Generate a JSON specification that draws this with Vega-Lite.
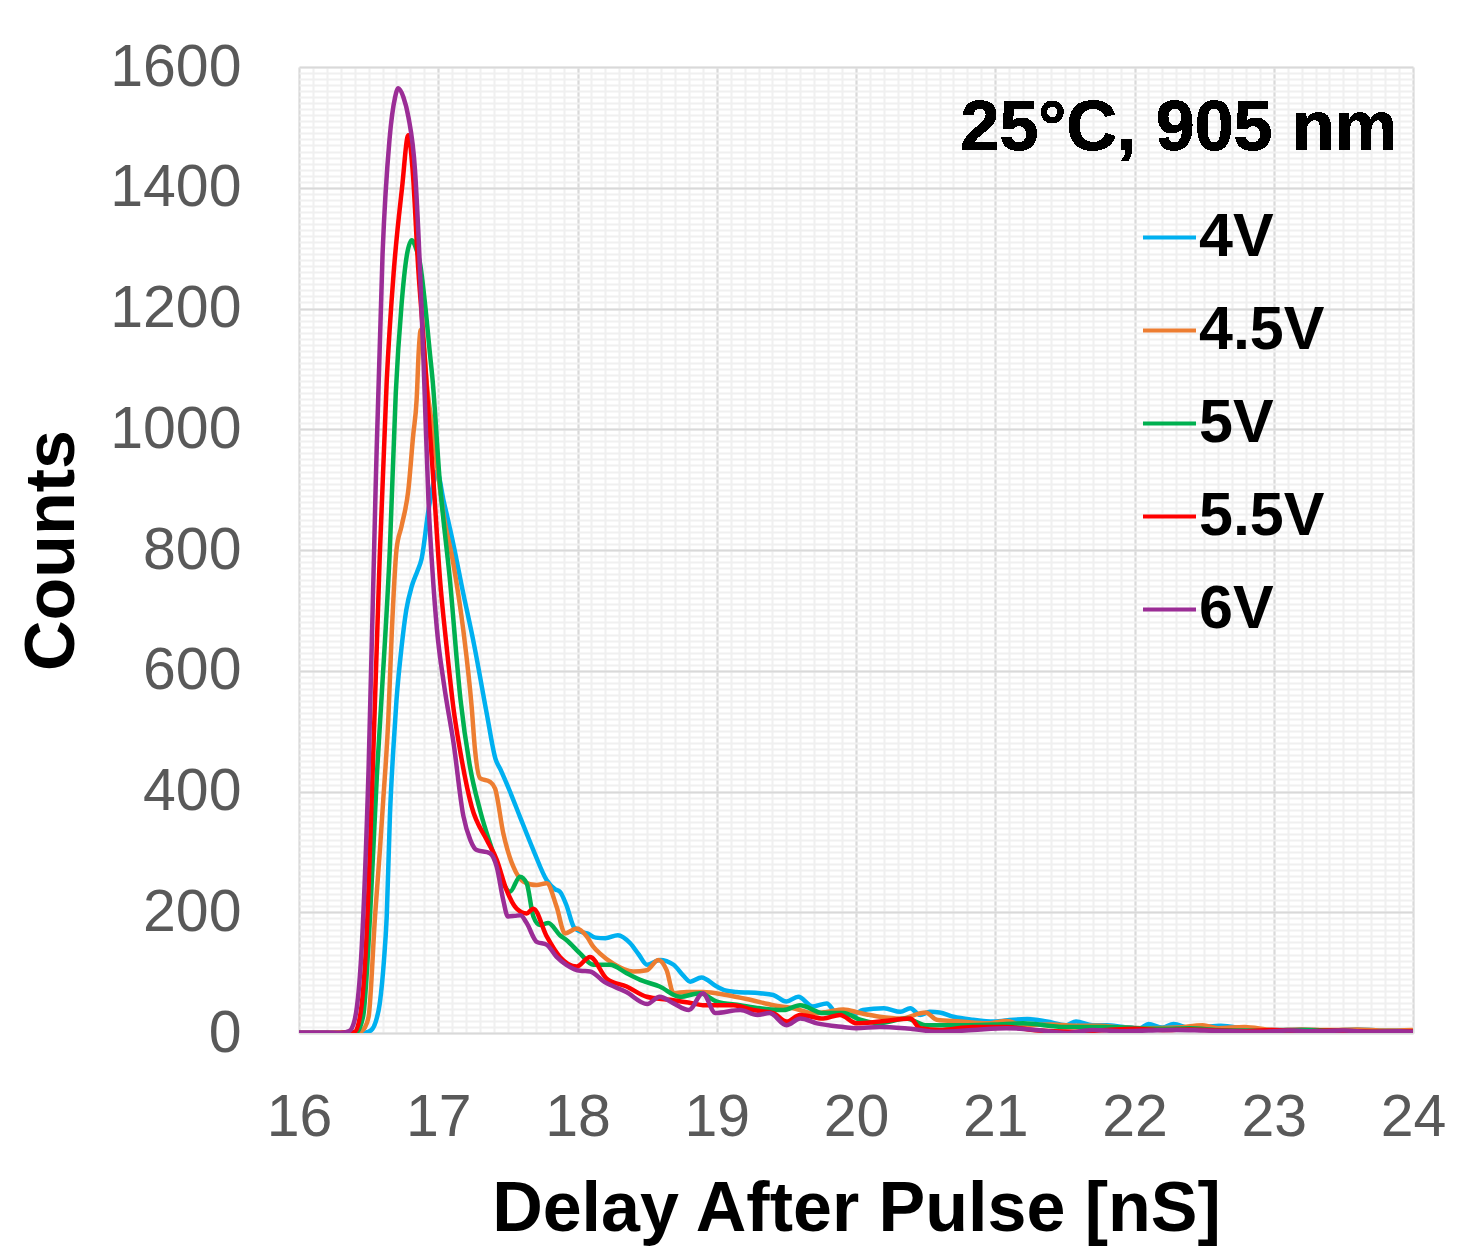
{
  "$schema": "https://vega.github.io/schema/vega-lite/v6.json",
  "width": 1114,
  "height": 966,
  "autosize": {"type": "none"},
  "padding": {"left": 299, "top": 67, "right": 51, "bottom": 215},
  "background": "white",
  "config": {"view": {"stroke": null}},
  "data": {"values": [
    {"s":"4V","x":16.0,"y":0},{"s":"4V","x":16.2,"y":0},{"s":"4V","x":16.4,"y":0},{"s":"4V","x":16.48,"y":1},{"s":"4V","x":16.52,"y":5},{"s":"4V","x":16.55,"y":18},{"s":"4V","x":16.58,"y":49},{"s":"4V","x":16.61,"y":120},{"s":"4V","x":16.63,"y":193},{"s":"4V","x":16.653,"y":360},{"s":"4V","x":16.677,"y":469},{"s":"4V","x":16.70,"y":551},{"s":"4V","x":16.737,"y":640},{"s":"4V","x":16.77,"y":700},{"s":"4V","x":16.81,"y":740},{"s":"4V","x":16.85,"y":765},{"s":"4V","x":16.88,"y":785},{"s":"4V","x":16.93,"y":866},{"s":"4V","x":16.97,"y":915},{"s":"4V","x":16.99,"y":930},{"s":"4V","x":17.04,"y":880},{"s":"4V","x":17.11,"y":808},{"s":"4V","x":17.17,"y":739},{"s":"4V","x":17.26,"y":640},{"s":"4V","x":17.35,"y":527},{"s":"4V","x":17.41,"y":455},{"s":"4V","x":17.45,"y":435},{"s":"4V","x":17.515,"y":400},{"s":"4V","x":17.587,"y":358},{"s":"4V","x":17.683,"y":303},{"s":"4V","x":17.779,"y":253},{"s":"4V","x":17.84,"y":238},{"s":"4V","x":17.874,"y":234},{"s":"4V","x":17.92,"y":212},{"s":"4V","x":17.975,"y":175},{"s":"4V","x":18.02,"y":168},{"s":"4V","x":18.07,"y":165},{"s":"4V","x":18.13,"y":158},{"s":"4V","x":18.2,"y":157},{"s":"4V","x":18.29,"y":162},{"s":"4V","x":18.377,"y":149},{"s":"4V","x":18.44,"y":130},{"s":"4V","x":18.5,"y":113},{"s":"4V","x":18.59,"y":121},{"s":"4V","x":18.69,"y":113},{"s":"4V","x":18.76,"y":95},{"s":"4V","x":18.81,"y":85},{"s":"4V","x":18.89,"y":92},{"s":"4V","x":19.0,"y":77},{"s":"4V","x":19.07,"y":70},{"s":"4V","x":19.143,"y":68},{"s":"4V","x":19.31,"y":66},{"s":"4V","x":19.406,"y":63},{"s":"4V","x":19.5,"y":52},{"s":"4V","x":19.585,"y":60},{"s":"4V","x":19.69,"y":44},{"s":"4V","x":19.79,"y":49},{"s":"4V","x":19.86,"y":33},{"s":"4V","x":19.98,"y":30},{"s":"4V","x":20.05,"y":38},{"s":"4V","x":20.2,"y":41},{"s":"4V","x":20.32,"y":35},{"s":"4V","x":20.39,"y":41},{"s":"4V","x":20.46,"y":30},{"s":"4V","x":20.53,"y":35},{"s":"4V","x":20.6,"y":34},{"s":"4V","x":20.7,"y":27},{"s":"4V","x":20.84,"y":22},{"s":"4V","x":20.99,"y":19},{"s":"4V","x":21.13,"y":22},{"s":"4V","x":21.23,"y":23},{"s":"4V","x":21.37,"y":19},{"s":"4V","x":21.51,"y":13},{"s":"4V","x":21.58,"y":19},{"s":"4V","x":21.7,"y":13},{"s":"4V","x":21.8,"y":13},{"s":"4V","x":21.92,"y":10},{"s":"4V","x":22.04,"y":8},{"s":"4V","x":22.1,"y":15},{"s":"4V","x":22.2,"y":9},{"s":"4V","x":22.28,"y":15},{"s":"4V","x":22.4,"y":8},{"s":"4V","x":22.5,"y":10},{"s":"4V","x":22.62,"y":12},{"s":"4V","x":22.8,"y":7},{"s":"4V","x":22.9,"y":5},{"s":"4V","x":23.0,"y":5},{"s":"4V","x":23.2,"y":6},{"s":"4V","x":23.4,"y":4},{"s":"4V","x":23.6,"y":6},{"s":"4V","x":23.8,"y":4},{"s":"4V","x":24.0,"y":4},

    {"s":"4.5V","x":16.0,"y":0},{"s":"4.5V","x":16.2,"y":0},{"s":"4.5V","x":16.4,"y":0},{"s":"4.5V","x":16.44,"y":2},{"s":"4.5V","x":16.47,"y":8},{"s":"4.5V","x":16.50,"y":27},{"s":"4.5V","x":16.546,"y":193},{"s":"4.5V","x":16.58,"y":300},{"s":"4.5V","x":16.605,"y":386},{"s":"4.5V","x":16.641,"y":518},{"s":"4.5V","x":16.666,"y":662},{"s":"4.5V","x":16.70,"y":800},{"s":"4.5V","x":16.737,"y":840},{"s":"4.5V","x":16.785,"y":899},{"s":"4.5V","x":16.82,"y":990},{"s":"4.5V","x":16.845,"y":1050},{"s":"4.5V","x":16.86,"y":1130},{"s":"4.5V","x":16.875,"y":1165},{"s":"4.5V","x":16.895,"y":1140},{"s":"4.5V","x":16.92,"y":1070},{"s":"4.5V","x":16.96,"y":1000},{"s":"4.5V","x":16.99,"y":943},{"s":"4.5V","x":17.036,"y":861},{"s":"4.5V","x":17.108,"y":778},{"s":"4.5V","x":17.18,"y":667},{"s":"4.5V","x":17.24,"y":540},{"s":"4.5V","x":17.264,"y":469},{"s":"4.5V","x":17.3,"y":422},{"s":"4.5V","x":17.372,"y":416},{"s":"4.5V","x":17.408,"y":405},{"s":"4.5V","x":17.467,"y":331},{"s":"4.5V","x":17.54,"y":275},{"s":"4.5V","x":17.61,"y":251},{"s":"4.5V","x":17.707,"y":245},{"s":"4.5V","x":17.779,"y":248},{"s":"4.5V","x":17.85,"y":209},{"s":"4.5V","x":17.91,"y":165},{"s":"4.5V","x":17.994,"y":173},{"s":"4.5V","x":18.066,"y":160},{"s":"4.5V","x":18.113,"y":143},{"s":"4.5V","x":18.16,"y":132},{"s":"4.5V","x":18.257,"y":115},{"s":"4.5V","x":18.4,"y":102},{"s":"4.5V","x":18.497,"y":104},{"s":"4.5V","x":18.58,"y":121},{"s":"4.5V","x":18.64,"y":104},{"s":"4.5V","x":18.69,"y":66},{"s":"4.5V","x":18.784,"y":68},{"s":"4.5V","x":18.9,"y":68},{"s":"4.5V","x":19.07,"y":63},{"s":"4.5V","x":19.24,"y":55},{"s":"4.5V","x":19.406,"y":46},{"s":"4.5V","x":19.55,"y":41},{"s":"4.5V","x":19.69,"y":33},{"s":"4.5V","x":19.79,"y":35},{"s":"4.5V","x":19.91,"y":39},{"s":"4.5V","x":20.03,"y":33},{"s":"4.5V","x":20.17,"y":27},{"s":"4.5V","x":20.32,"y":24},{"s":"4.5V","x":20.5,"y":34},{"s":"4.5V","x":20.58,"y":22},{"s":"4.5V","x":20.75,"y":19},{"s":"4.5V","x":20.94,"y":16},{"s":"4.5V","x":21.08,"y":20},{"s":"4.5V","x":21.2,"y":13},{"s":"4.5V","x":21.4,"y":14},{"s":"4.5V","x":21.6,"y":12},{"s":"4.5V","x":21.75,"y":12},{"s":"4.5V","x":21.9,"y":9},{"s":"4.5V","x":22.1,"y":8},{"s":"4.5V","x":22.3,"y":9},{"s":"4.5V","x":22.49,"y":13},{"s":"4.5V","x":22.6,"y":8},{"s":"4.5V","x":22.79,"y":10},{"s":"4.5V","x":23.0,"y":5},{"s":"4.5V","x":23.2,"y":6},{"s":"4.5V","x":23.4,"y":5},{"s":"4.5V","x":23.6,"y":6},{"s":"4.5V","x":23.8,"y":4},{"s":"4.5V","x":24.0,"y":5},

    {"s":"5V","x":16.0,"y":0},{"s":"5V","x":16.2,"y":0},{"s":"5V","x":16.41,"y":1},{"s":"5V","x":16.46,"y":27},{"s":"5V","x":16.51,"y":193},{"s":"5V","x":16.56,"y":430},{"s":"5V","x":16.594,"y":560},{"s":"5V","x":16.653,"y":805},{"s":"5V","x":16.695,"y":1060},{"s":"5V","x":16.737,"y":1208},{"s":"5V","x":16.773,"y":1286},{"s":"5V","x":16.81,"y":1313},{"s":"5V","x":16.84,"y":1300},{"s":"5V","x":16.869,"y":1275},{"s":"5V","x":16.905,"y":1208},{"s":"5V","x":16.94,"y":1126},{"s":"5V","x":16.96,"y":1080},{"s":"5V","x":17.01,"y":916},{"s":"5V","x":17.084,"y":750},{"s":"5V","x":17.16,"y":552},{"s":"5V","x":17.228,"y":441},{"s":"5V","x":17.3,"y":369},{"s":"5V","x":17.395,"y":298},{"s":"5V","x":17.467,"y":248},{"s":"5V","x":17.515,"y":234},{"s":"5V","x":17.587,"y":259},{"s":"5V","x":17.635,"y":248},{"s":"5V","x":17.683,"y":193},{"s":"5V","x":17.73,"y":179},{"s":"5V","x":17.79,"y":182},{"s":"5V","x":17.874,"y":162},{"s":"5V","x":17.92,"y":154},{"s":"5V","x":18.018,"y":132},{"s":"5V","x":18.113,"y":113},{"s":"5V","x":18.233,"y":113},{"s":"5V","x":18.353,"y":99},{"s":"5V","x":18.45,"y":88},{"s":"5V","x":18.59,"y":77},{"s":"5V","x":18.736,"y":60},{"s":"5V","x":18.88,"y":66},{"s":"5V","x":19.0,"y":52},{"s":"5V","x":19.167,"y":46},{"s":"5V","x":19.31,"y":41},{"s":"5V","x":19.478,"y":38},{"s":"5V","x":19.598,"y":46},{"s":"5V","x":19.765,"y":33},{"s":"5V","x":19.91,"y":33},{"s":"5V","x":20.03,"y":22},{"s":"5V","x":20.17,"y":16},{"s":"5V","x":20.36,"y":24},{"s":"5V","x":20.5,"y":13},{"s":"5V","x":20.8,"y":13},{"s":"5V","x":21.0,"y":14},{"s":"5V","x":21.2,"y":16},{"s":"5V","x":21.5,"y":10},{"s":"5V","x":21.8,"y":10},{"s":"5V","x":22.0,"y":8},{"s":"5V","x":22.2,"y":7},{"s":"5V","x":22.4,"y":8},{"s":"5V","x":22.6,"y":5},{"s":"5V","x":22.8,"y":4},{"s":"5V","x":23.0,"y":3},{"s":"5V","x":23.2,"y":5},{"s":"5V","x":23.4,"y":4},{"s":"5V","x":23.6,"y":3},{"s":"5V","x":23.8,"y":2},{"s":"5V","x":24.0,"y":3},

    {"s":"5.5V","x":16.0,"y":0},{"s":"5.5V","x":16.2,"y":0},{"s":"5.5V","x":16.40,"y":2},{"s":"5.5V","x":16.44,"y":30},{"s":"5.5V","x":16.48,"y":137},{"s":"5.5V","x":16.53,"y":440},{"s":"5.5V","x":16.58,"y":790},{"s":"5.5V","x":16.63,"y":1080},{"s":"5.5V","x":16.68,"y":1260},{"s":"5.5V","x":16.74,"y":1400},{"s":"5.5V","x":16.785,"y":1487},{"s":"5.5V","x":16.816,"y":1429},{"s":"5.5V","x":16.857,"y":1264},{"s":"5.5V","x":16.893,"y":1153},{"s":"5.5V","x":16.92,"y":1060},{"s":"5.5V","x":16.965,"y":916},{"s":"5.5V","x":17.013,"y":750},{"s":"5.5V","x":17.06,"y":640},{"s":"5.5V","x":17.108,"y":540},{"s":"5.5V","x":17.156,"y":469},{"s":"5.5V","x":17.24,"y":375},{"s":"5.5V","x":17.348,"y":320},{"s":"5.5V","x":17.42,"y":287},{"s":"5.5V","x":17.49,"y":237},{"s":"5.5V","x":17.563,"y":206},{"s":"5.5V","x":17.635,"y":198},{"s":"5.5V","x":17.683,"y":206},{"s":"5.5V","x":17.779,"y":160},{"s":"5.5V","x":17.874,"y":126},{"s":"5.5V","x":17.994,"y":110},{"s":"5.5V","x":18.09,"y":126},{"s":"5.5V","x":18.21,"y":90},{"s":"5.5V","x":18.353,"y":77},{"s":"5.5V","x":18.497,"y":60},{"s":"5.5V","x":18.664,"y":55},{"s":"5.5V","x":18.83,"y":49},{"s":"5.5V","x":18.9,"y":46},{"s":"5.5V","x":19.12,"y":46},{"s":"5.5V","x":19.26,"y":38},{"s":"5.5V","x":19.406,"y":33},{"s":"5.5V","x":19.502,"y":19},{"s":"5.5V","x":19.598,"y":30},{"s":"5.5V","x":19.765,"y":24},{"s":"5.5V","x":19.885,"y":30},{"s":"5.5V","x":20.005,"y":16},{"s":"5.5V","x":20.17,"y":19},{"s":"5.5V","x":20.39,"y":24},{"s":"5.5V","x":20.46,"y":8},{"s":"5.5V","x":20.6,"y":5},{"s":"5.5V","x":20.84,"y":10},{"s":"5.5V","x":21.08,"y":10},{"s":"5.5V","x":21.27,"y":5},{"s":"5.5V","x":21.56,"y":2},{"s":"5.5V","x":21.8,"y":5},{"s":"5.5V","x":22.0,"y":7},{"s":"5.5V","x":22.2,"y":5},{"s":"5.5V","x":22.4,"y":6},{"s":"5.5V","x":22.6,"y":4},{"s":"5.5V","x":22.8,"y":3},{"s":"5.5V","x":23.0,"y":5},{"s":"5.5V","x":23.2,"y":3},{"s":"5.5V","x":23.4,"y":4},{"s":"5.5V","x":23.6,"y":3},{"s":"5.5V","x":23.8,"y":2},{"s":"5.5V","x":24.0,"y":3},

    {"s":"6V","x":16.0,"y":1},{"s":"6V","x":16.2,"y":1},{"s":"6V","x":16.3,"y":0},{"s":"6V","x":16.36,"y":3},{"s":"6V","x":16.40,"y":22},{"s":"6V","x":16.45,"y":140},{"s":"6V","x":16.5,"y":440},{"s":"6V","x":16.55,"y":900},{"s":"6V","x":16.6,"y":1290},{"s":"6V","x":16.65,"y":1480},{"s":"6V","x":16.69,"y":1550},{"s":"6V","x":16.713,"y":1565},{"s":"6V","x":16.75,"y":1550},{"s":"6V","x":16.785,"y":1518},{"s":"6V","x":16.833,"y":1429},{"s":"6V","x":16.869,"y":1264},{"s":"6V","x":16.9,"y":1075},{"s":"6V","x":16.93,"y":880},{"s":"6V","x":16.96,"y":760},{"s":"6V","x":16.99,"y":670},{"s":"6V","x":17.04,"y":579},{"s":"6V","x":17.11,"y":480},{"s":"6V","x":17.18,"y":360},{"s":"6V","x":17.23,"y":320},{"s":"6V","x":17.276,"y":303},{"s":"6V","x":17.37,"y":298},{"s":"6V","x":17.42,"y":275},{"s":"6V","x":17.467,"y":220},{"s":"6V","x":17.5,"y":193},{"s":"6V","x":17.55,"y":194},{"s":"6V","x":17.59,"y":195},{"s":"6V","x":17.635,"y":182},{"s":"6V","x":17.707,"y":151},{"s":"6V","x":17.78,"y":146},{"s":"6V","x":17.85,"y":126},{"s":"6V","x":17.92,"y":113},{"s":"6V","x":18.02,"y":103},{"s":"6V","x":18.09,"y":102},{"s":"6V","x":18.19,"y":85},{"s":"6V","x":18.35,"y":68},{"s":"6V","x":18.5,"y":48},{"s":"6V","x":18.59,"y":60},{"s":"6V","x":18.69,"y":49},{"s":"6V","x":18.8,"y":38},{"s":"6V","x":18.9,"y":66},{"s":"6V","x":18.99,"y":33},{"s":"6V","x":19.17,"y":38},{"s":"6V","x":19.29,"y":30},{"s":"6V","x":19.38,"y":33},{"s":"6V","x":19.5,"y":13},{"s":"6V","x":19.6,"y":24},{"s":"6V","x":19.72,"y":16},{"s":"6V","x":19.91,"y":10},{"s":"6V","x":20.0,"y":8},{"s":"6V","x":20.17,"y":10},{"s":"6V","x":20.35,"y":8},{"s":"6V","x":20.6,"y":2},{"s":"6V","x":20.84,"y":5},{"s":"6V","x":21.08,"y":8},{"s":"6V","x":21.3,"y":5},{"s":"6V","x":21.51,"y":0},{"s":"6V","x":21.7,"y":5},{"s":"6V","x":21.9,"y":3},{"s":"6V","x":22.1,"y":4},{"s":"6V","x":22.3,"y":5},{"s":"6V","x":22.5,"y":4},{"s":"6V","x":22.7,"y":3},{"s":"6V","x":22.9,"y":2},{"s":"6V","x":23.1,"y":4},{"s":"6V","x":23.3,"y":3},{"s":"6V","x":23.5,"y":4},{"s":"6V","x":23.7,"y":2},{"s":"6V","x":23.9,"y":3},{"s":"6V","x":24.0,"y":2}
  ]},
  "resolve": {"axis": {"x": "independent", "y": "independent"}},
  "layer": [
    {
      "mark": {"type": "point", "opacity": 0},
      "encoding": {
        "x": {"field": "x", "type": "quantitative", "scale": {"domain": [16, 24], "nice": false, "zero": false},
          "axis": {"orient": "bottom", "tickCount": 80, "grid": true, "gridColor": "#f0f0f0", "gridWidth": 2, "labels": false, "ticks": false, "domain": false, "title": null}},
        "y": {"field": "y", "type": "quantitative", "scale": {"domain": [0, 1600], "nice": false},
          "axis": {"orient": "left", "tickCount": 160, "grid": true, "gridColor": "#f0f0f0", "gridWidth": 2, "labels": false, "ticks": false, "domain": false, "title": null}}
      }
    },
    {
      "mark": {"type": "line", "strokeWidth": 4.5, "interpolate": "monotone", "clip": true},
      "encoding": {
        "x": {"field": "x", "type": "quantitative", "scale": {"domain": [16, 24], "nice": false, "zero": false},
          "axis": {"orient": "bottom", "values": [16,17,18,19,20,21,22,23,24], "grid": true, "gridColor": "#d9d9d9", "gridWidth": 2, "ticks": false, "domain": false, "labelFlush": false, "labelOverlap": false, "labelFont": "Liberation Sans", "labelFontSize": 59, "labelColor": "#595959", "labelPadding": 55, "title": "Delay After Pulse [nS]", "titleFont": "Liberation Sans", "titleFontSize": 70, "titleFontWeight": "bold", "titleColor": "black", "titleBaseline": "alphabetic", "titlePadding": 83}},
        "y": {"field": "y", "type": "quantitative", "scale": {"domain": [0, 1600], "nice": false},
          "axis": {"orient": "left", "values": [0,200,400,600,800,1000,1200,1400,1600], "format": "d", "grid": true, "gridColor": "#d9d9d9", "gridWidth": 2, "ticks": false, "domain": false, "labelOverlap": false, "labelFont": "Liberation Sans", "labelFontSize": 59, "labelColor": "#595959", "labelPadding": 58, "title": "Counts", "titleFont": "Liberation Sans", "titleFontSize": 70, "titleFontWeight": "bold", "titleColor": "black", "titleBaseline": "alphabetic", "titlePadding": 36}},
        "color": {"field": "s", "type": "nominal",
          "scale": {"domain": ["4V", "4.5V", "5V", "5.5V", "6V"], "range": ["#00B0F0", "#ED7D31", "#00B050", "#FF0000", "#9B2D96"]},
          "legend": {"orient": "none", "legendX": 840, "legendY": 140, "title": null, "symbolType": "stroke", "symbolSize": 2809, "symbolStrokeWidth": 4, "labelFont": "Liberation Sans", "labelFontSize": 61, "labelFontWeight": "bold", "labelColor": "black", "labelOffset": -1, "rowPadding": 31, "padding": 0}}
      }
    },
    {
      "mark": {"type": "text", "text": "25°C, 905 nm", "align": "right", "baseline": "alphabetic", "dx": -16, "font": "Liberation Sans", "fontSize": 70, "fontWeight": "bold", "color": "black"},
      "encoding": {
        "x": {"datum": 24, "type": "quantitative", "axis": null},
        "y": {"datum": 1462, "type": "quantitative", "axis": null}
      }
    }
  ]
}
